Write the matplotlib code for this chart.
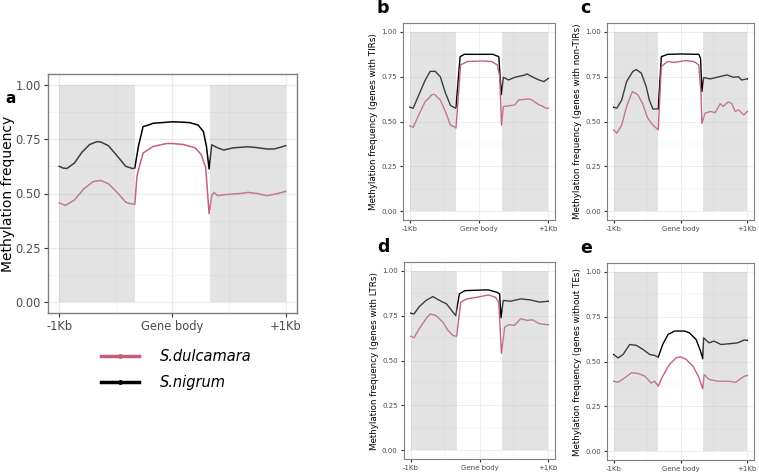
import numpy as np
import matplotlib.pyplot as plt
from matplotlib.lines import Line2D

FIG_W = 759 / 100
FIG_H = 474 / 100

PINK = "#c85f78"
BLACK = "#000000"
SHADE = "#b0b0b0"

species = ["S.dulcamara", "S.nigrum"]
tick_labels = ["-1Kb", "Gene body", "+1Kb"]

# panel a (all genes)
a_nig_x = [0, 5, 10, 20, 30, 40, 50, 55, 65, 75, 88, 97, 100, 105, 111, 118, 124, 135, 150, 165, 173, 184, 191, 195, 198.5,
           202, 210, 218, 230, 250, 260, 275, 285, 300]
a_nig_y = [0.625, 0.617, 0.615, 0.64, 0.69, 0.725, 0.739, 0.737, 0.72, 0.68, 0.625, 0.615, 0.617, 0.72, 0.808, 0.815, 0.823,
           0.826, 0.83, 0.828, 0.826, 0.815, 0.785, 0.716, 0.613,
           0.724, 0.71, 0.70, 0.71, 0.715, 0.712, 0.705, 0.705, 0.72]
a_dul_x = [0, 8, 20, 32, 45, 55, 65, 78, 88, 92, 100, 103, 105, 111, 124, 142, 150, 165, 180, 188, 194, 198.5,
           202, 205, 210, 220, 240, 250, 262, 275, 290, 300]
a_dul_y = [0.457, 0.445, 0.47, 0.52, 0.555, 0.56, 0.545, 0.50, 0.46, 0.455, 0.45, 0.58, 0.61, 0.686, 0.716, 0.73, 0.73,
           0.725, 0.71, 0.68, 0.62, 0.408,
           0.49, 0.505, 0.49, 0.495, 0.50, 0.505, 0.50, 0.49, 0.50, 0.51]

# panel b (genes with TIRs)
b_nig_x = [0, 7, 18, 33, 44, 55, 66, 77, 88, 99, 100, 109, 118, 150, 180, 193, 198.5,
           203, 214, 228, 250, 254, 265, 280, 291, 300]
b_nig_y = [0.58, 0.574, 0.64, 0.73, 0.78, 0.78, 0.75, 0.66, 0.59, 0.574, 0.58, 0.862, 0.875, 0.875, 0.875, 0.862, 0.65,
           0.747, 0.732, 0.747, 0.76, 0.766, 0.75, 0.732, 0.723, 0.74]
b_dul_x = [0, 7, 18, 33, 48, 53, 66, 77, 88, 95, 100, 110, 125, 155, 177, 190, 195, 199,
           203, 214, 228, 236, 258, 265, 280, 287, 295, 300]
b_dul_y = [0.476, 0.467, 0.53, 0.61, 0.65, 0.652, 0.62, 0.556, 0.48, 0.472, 0.463, 0.816, 0.835, 0.838, 0.835, 0.816,
           0.75, 0.48,
           0.584, 0.587, 0.593, 0.62, 0.626, 0.62, 0.593, 0.587, 0.574, 0.574]

# panel c (genes with non-TIRs)
c_nig_x = [0, 7, 18, 29, 43, 51, 62, 73, 80, 88, 100, 107, 121, 150, 191, 195, 198,
           202, 217, 232, 254, 269, 280, 287, 300]
c_nig_y = [0.58, 0.574, 0.62, 0.723, 0.78, 0.79, 0.77, 0.695, 0.62, 0.57, 0.57, 0.862, 0.875, 0.877, 0.875, 0.853, 0.667,
           0.745, 0.738, 0.747, 0.76, 0.747, 0.75, 0.732, 0.738]
c_dul_x = [0, 7, 18, 29, 42, 54, 65, 76, 88, 100, 107, 121, 136, 161, 180, 191, 196, 198,
           205, 217, 228, 239, 246, 257, 265, 273, 280, 292, 300]
c_dul_y = [0.453, 0.435, 0.48, 0.584, 0.667, 0.65, 0.60, 0.52, 0.48, 0.453, 0.807, 0.835, 0.83, 0.84, 0.835, 0.816,
           0.658, 0.49,
           0.546, 0.556, 0.55, 0.60, 0.584, 0.61, 0.60, 0.556, 0.565, 0.537, 0.556]

# panel d (genes with LTRs)
d_nig_x = [0, 7, 18, 33, 48, 63, 78, 92, 98, 106, 118, 159, 170, 188, 194, 197,
           202, 218, 240, 262, 281, 300]
d_nig_y = [0.764, 0.76, 0.80, 0.835, 0.857, 0.835, 0.816, 0.77, 0.751, 0.872, 0.89, 0.894, 0.894, 0.881, 0.872, 0.738,
           0.835, 0.831, 0.844, 0.838, 0.826, 0.831]
d_dul_x = [0, 7, 18, 33, 42, 55, 70, 81, 92, 100, 109, 122, 144, 170, 185, 192, 198,
           205, 214, 226, 240, 255, 266, 281, 300]
d_dul_y = [0.635, 0.627, 0.677, 0.733, 0.76, 0.751, 0.714, 0.668, 0.64, 0.635, 0.826, 0.844, 0.853, 0.866, 0.853, 0.826,
           0.54,
           0.686, 0.70, 0.696, 0.733, 0.724, 0.727, 0.705, 0.70]

# panel e (genes without TEs)
e_nig_x = [0, 10, 21, 36, 51, 66, 81, 92, 100, 110, 122, 137, 159, 170, 185, 195, 200,
           202, 214, 225, 241, 263, 278, 293, 300]
e_nig_y = [0.539, 0.52, 0.539, 0.595, 0.59, 0.567, 0.539, 0.534, 0.524, 0.595, 0.651, 0.67, 0.67, 0.66, 0.623, 0.558,
           0.515,
           0.632, 0.604, 0.614, 0.595, 0.60, 0.604, 0.62, 0.618]
e_dul_x = [0, 10, 25, 40, 55, 70, 84, 92, 100, 110, 125, 140, 150, 163, 178, 190, 200,
           203, 214, 233, 257, 274, 293, 300]
e_dul_y = [0.39, 0.384, 0.409, 0.437, 0.433, 0.418, 0.38, 0.39, 0.362, 0.418, 0.483, 0.52, 0.526, 0.511, 0.474, 0.418,
           0.347,
           0.427, 0.40, 0.39, 0.39, 0.384, 0.418, 0.422]

panels = [
    ("a", "Methylation frequency", a_dul_x, a_dul_y, a_nig_x, a_nig_y),
    ("b", "Methylation frequency (genes with TIRs)", b_dul_x, b_dul_y, b_nig_x, b_nig_y),
    ("c", "Methylation frequency (genes with non-TIRs)", c_dul_x, c_dul_y, c_nig_x, c_nig_y),
    ("d", "Methylation frequency (genes with LTRs)", d_dul_x, d_dul_y, d_nig_x, d_nig_y),
    ("e", "Methylation frequency (genes without TEs)", e_dul_x, e_dul_y, e_nig_x, e_nig_y),
]

# axes boxes in pixels: left, top, right, bottom
boxes = [(48, 74, 297, 313), (403, 23, 555, 220), (607, 23, 754, 220),
         (404, 262, 555, 459), (607, 263, 754, 460)]

fig = plt.figure(figsize=(FIG_W, FIG_H), dpi=100)


def px_rect(l, t, r, b):
    return [l / 759, 1 - b / 474, (r - l) / 759, (b - t) / 474]


for i, (lab, ylab, dx, dy, nx, ny) in enumerate(panels):
    ax = fig.add_axes(px_rect(*boxes[i]))
    big = i == 0
    tfs = 8.3 if big else 5
    lfs = 10 if big else 6.3
    ax.set_xlim(-15, 315)
    ax.set_ylim(-0.05, 1.05)
    ax.set_xticks([0, 150, 300])
    ax.set_xticklabels(tick_labels)
    ax.set_yticks([0, 0.25, 0.5, 0.75, 1.0])
    ax.set_yticklabels(["0.00", "0.25", "0.50", "0.75", "1.00"])
    ax.set_xticks([75, 225], minor=True)
    ax.set_yticks([0.125, 0.375, 0.625, 0.875], minor=True)
    ax.grid(which="major", color="#ebebeb", lw=0.9 if big else 0.6, zorder=0)
    ax.grid(which="minor", color="#f2f2f2", lw=0.5 if big else 0.35, zorder=0)
    ax.tick_params(which="major", colors="#333333", labelcolor="#4d4d4d",
                   labelsize=tfs, length=3 if big else 2.5, width=0.8, pad=2)
    ax.tick_params(which="minor", length=0)
    for s in ax.spines.values():
        s.set_color("#7f7f7f")
        s.set_linewidth(1.0 if big else 0.8)
    ax.set_axisbelow(True)

    ax.plot(nx, ny, color=BLACK, lw=1.1 if big else 1.0, zorder=2)
    ax.plot(dx, dy, color=PINK, lw=1.1 if big else 1.0, zorder=2)
    for x0, x1 in [(0, 100), (200, 300)]:
        ax.fill_between([x0, x1], 0, 1, color=SHADE, alpha=0.35, lw=0, zorder=3)

    ax.set_ylabel(ylab, fontsize=lfs, labelpad=2)
    l, t, r, b = boxes[i]
    if big:
        ax.yaxis.set_label_coords((15 - l) / (r - l), 0.5)
        fig.text(5 / 759, 1 - 103 / 474, lab, fontsize=11, fontweight="bold")
    else:
        fig.text((l - 27) / 759, 1 - (t - 10) / 474, lab, fontsize=12.5,
                 fontweight="bold", va="baseline")

# legend under panel a
handles = [Line2D([0], [0], color=PINK, lw=2.5, marker="o", markersize=2.5),
           Line2D([0], [0], color=BLACK, lw=2.5, marker="o", markersize=2.5)]
fig.legend(handles, species, loc="upper left",
           bbox_to_anchor=(88 / 759, 1 - 336 / 474), frameon=False,
           prop={"style": "italic", "size": 10.5}, handlelength=2.6,
           labelspacing=0.75, handletextpad=1.4)

fig.savefig("out.png", dpi=100)
